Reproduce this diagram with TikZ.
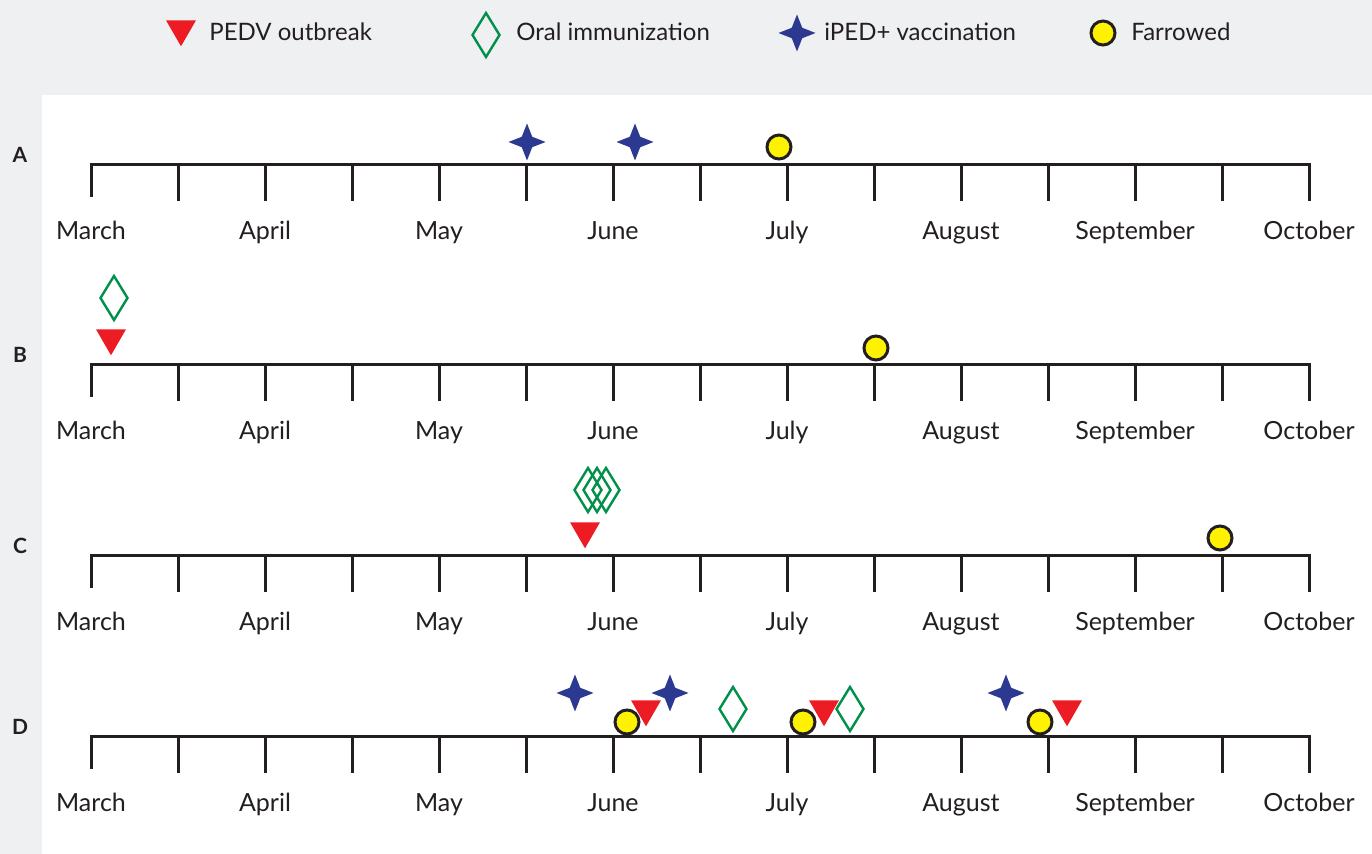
\documentclass[tikz,border=0pt]{standalone}
\usepackage{fontspec}
\setmainfont{Lato}
\usetikzlibrary{shapes.geometric}
\definecolor{bggray}{HTML}{EFF0F2}
\definecolor{pedvred}{HTML}{ED1C24}
\definecolor{oralgreen}{HTML}{00904A}
\definecolor{vacblue}{HTML}{2B3990}
\definecolor{faryellow}{HTML}{FFF200}
\definecolor{axisdark}{HTML}{231F20}
\tikzset{
  outbreak/.style={regular polygon, regular polygon sides=3, shape border rotate=180,
    fill=pedvred, inner sep=0pt, minimum size=17.3pt},
  oral/.style={diamond, draw=oralgreen, line width=1.2pt, inner sep=0pt,
    minimum width=14pt, minimum height=22.5pt},
  vaccine/.style={star, star points=4, star point ratio=2.5, fill=vacblue,
    inner sep=0pt, minimum size=18.5pt},
  farrowed/.style={circle, fill=faryellow, draw=axisdark, line width=1.5pt,
    inner sep=0pt, minimum size=12pt},
  axisline/.style={draw=axisdark, line width=1.5pt},
  month/.style={anchor=base, text=axisdark, font=\fontsize{12.5}{14}\selectfont},
  legtext/.style={anchor=base west, inner sep=0pt, text=axisdark,
    font=\fontsize{12}{14}\selectfont},
  rowlabel/.style={text=axisdark, font=\fontsize{10.5}{12}\selectfont\bfseries}
}
\begin{document}
\begin{tikzpicture}[x=0.5pt, y=-0.5pt]
  \fill[bggray] (0,0) rectangle (1372,854);
  \fill[white] (42,95) rectangle (1372,854);
  % legend
  \node[outbreak] (legout) at (181,29) {};
  \node[legtext] (legouttxt) at (209,41) {PEDV outbreak};
  \node[oral] (legoral) at (486,35) {};
  \node[legtext] (legoraltxt) at (516,41) {Oral immunization};
  \node[vaccine] (legvac) at (797,33) {};
  \node[legtext] (legvactxt) at (824,41) {iPED+ vaccination};
  \node[farrowed] (legfar) at (1103,33) {};
  \node[legtext] (legfartxt) at (1131,41) {Farrowed};
  % timelines
  \foreach \row/\yy in {A/165,B/365,C/556,D/737}{
    \node[rowlabel] (lab\row) at (20,\yy-10) {\row};
    \draw[axisline] (91,\yy+32) -- (91,\yy) -- (1309,\yy) -- (1309,\yy+36);
    \foreach \i in {1,...,13}
      \draw[axisline] (91+87*\i,\yy) -- ++(0,36);
    \foreach \m [count=\k from 0] in {March,April,May,June,July,August,September,October}
      \node[month] (m\row\k) at (91+174*\k,\yy+75) {\m};
  }
  % row A
  \node[vaccine] (a1) at (527,142) {};
  \node[vaccine] (a2) at (635,142) {};
  \node[farrowed] (a3) at (779,147) {};
  % row B
  \node[oral] (b1) at (114,298) {};
  \node[outbreak] (b2) at (111,338) {};
  \node[farrowed] (b3) at (876,348) {};
  % row C
  \foreach \xx [count=\n] in {588,597,606}
    \node[oral] (c\n) at (\xx,490) {};
  \node[outbreak] (c4) at (585,531) {};
  \node[farrowed] (c5) at (1220,538) {};
  % row D
  \foreach \xx [count=\n] in {575,670,1006}
    \node[vaccine] (dv\n) at (\xx,693) {};
  \foreach \xx [count=\n] in {627,803,1040}
    \node[farrowed] (df\n) at (\xx,722) {};
  \foreach \xx [count=\n] in {646,824,1067}
    \node[outbreak] (do\n) at (\xx,709) {};
  \foreach \xx [count=\n] in {733,850}
    \node[oral] (dr\n) at (\xx,709) {};
\end{tikzpicture}
\end{document}
